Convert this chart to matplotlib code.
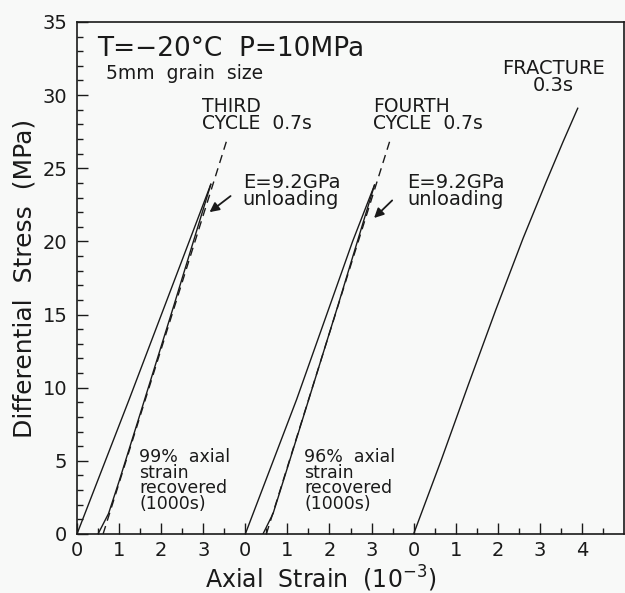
import matplotlib
matplotlib.use('Agg')
import matplotlib.pyplot as plt
import numpy as np

# strain offsets of the three panels along the shared x axis (10^-3)
panel_offsets = [0, 4, 8]
tick_labels = ['0', '1', '2', '3', '0', '1', '2', '3', '0', '1', '2', '3', '4']

# third cycle (local strain, stress MPa)
third_load_strain = [0.0, 1.24, 2.68, 3.18]
third_load_stress = [0.0, 9.2, 20.1, 23.9]
third_unload_strain = [3.18, 2.30, 1.50, 1.00, 0.75, 0.50]
third_unload_stress = [23.9, 15.6, 8.2, 3.6, 1.4, 0.0]
third_modulus_strain = [0.62, 3.58]
third_modulus_stress = [0.0, 27.1]

# fourth cycle
fourth_load_strain = [0.0, 1.22, 2.55, 3.07]
fourth_load_stress = [0.0, 9.2, 20.0, 23.85]
fourth_unload_strain = [3.07, 2.20, 1.40, 0.90, 0.66, 0.42]
fourth_unload_stress = [23.85, 15.6, 8.2, 3.6, 1.4, 0.0]
fourth_modulus_strain = [0.50, 3.46]
fourth_modulus_stress = [0.0, 27.1]

# fracture run
fracture_strain = [0.0, 0.65, 1.30, 1.95, 2.60, 3.14, 3.55, 3.90]
fracture_stress = [0.0, 5.0, 10.2, 15.3, 20.2, 24.0, 26.8, 29.1]

bg = '#f8f9f8'
ink = '#1a1a1a'

fig = plt.figure(figsize=(6.25, 5.93), dpi=100, facecolor=bg)
ax = fig.add_axes([0.1232, 0.0995, 0.8752, 0.8635], facecolor=bg)

off3, off4, off5 = panel_offsets

ax.plot(np.array(third_load_strain) + off3, third_load_stress, color=ink, lw=1.0)
ax.plot(np.array(third_unload_strain) + off3, third_unload_stress, color=ink, lw=1.0)
ax.plot(np.array(third_modulus_strain) + off3, third_modulus_stress, color=ink, lw=1.0,
        ls=(0, (6, 4)))

ax.plot(np.array(fourth_load_strain) + off4, fourth_load_stress, color=ink, lw=1.0)
ax.plot(np.array(fourth_unload_strain) + off4, fourth_unload_stress, color=ink, lw=1.0)
ax.plot(np.array(fourth_modulus_strain) + off4, fourth_modulus_stress, color=ink, lw=1.0,
        ls=(0, (6, 4)))

ax.plot(np.array(fracture_strain) + off5, fracture_stress, color=ink, lw=1.0)

# arrows pointing at the unloading branches
for tail, head in [((3.65, 23.1), (3.15, 22.0)), ((7.49, 22.8), (7.06, 21.6))]:
    ax.annotate('', xy=head, xytext=tail,
                arrowprops=dict(arrowstyle='-|>', color=ink, lw=1.3,
                                mutation_scale=14, shrinkA=0, shrinkB=0))

ax.set_xlim(0, 13)
ax.set_ylim(0, 35)
ax.set_xticks(range(13))
ax.set_xticklabels(tick_labels)
ax.set_xticks(np.arange(0.5, 13, 1.0), minor=True)
ax.set_yticks(range(0, 36, 5))
ax.set_yticks(range(0, 36, 1), minor=True)

ax.tick_params(which='major', direction='in', length=8, width=1.0, colors=ink,
               labelsize=14)
ax.tick_params(which='minor', direction='in', length=4, width=1.0, colors=ink)
ax.tick_params(axis='x', which='major', pad=5)
ax.tick_params(axis='y', which='major', pad=7)
for s in ax.spines.values():
    s.set_color(ink)
    s.set_linewidth(1.2)

ax.set_ylabel('Differential  Stress  (MPa)', fontsize=18, color=ink, labelpad=4)
ax.set_xlabel(r'Axial  Strain  (10$^{-3}$)', fontsize=17, color=ink)
ax.xaxis.set_label_coords(0.446, -0.058)

txt = dict(color=ink)
ax.text(0.47, 32.7, 'T=\u221220\u00b0C  P=10MPa', fontsize=19, va='baseline', **txt)
ax.text(0.69, 31.1, '5mm  grain  size', fontsize=13.5, va='baseline', **txt)
ax.text(2.96, 29.9, 'THIRD\nCYCLE  0.7s', fontsize=13.5, va='top', linespacing=0.9, **txt)
ax.text(7.04, 29.9, 'FOURTH\nCYCLE  0.7s', fontsize=13.5, va='top', linespacing=0.9, **txt)
ax.text(3.94, 24.7, 'E=9.2GPa\nunloading', fontsize=14, va='top', linespacing=0.9, **txt)
ax.text(7.84, 24.7, 'E=9.2GPa\nunloading', fontsize=14, va='top', linespacing=0.9, **txt)
ax.text(11.33, 32.5, 'FRACTURE\n0.3s', fontsize=14, va='top', ha='center',
        linespacing=0.9, **txt)
ax.text(1.48, 5.9, '99%  axial\nstrain\nrecovered\n(1000s)', fontsize=12.5, va='top',
        linespacing=0.85, **txt)
ax.text(5.40, 5.9, '96%  axial\nstrain\nrecovered\n(1000s)', fontsize=12.5, va='top',
        linespacing=0.85, **txt)

fig.savefig('out.png', dpi=100, facecolor=bg)
